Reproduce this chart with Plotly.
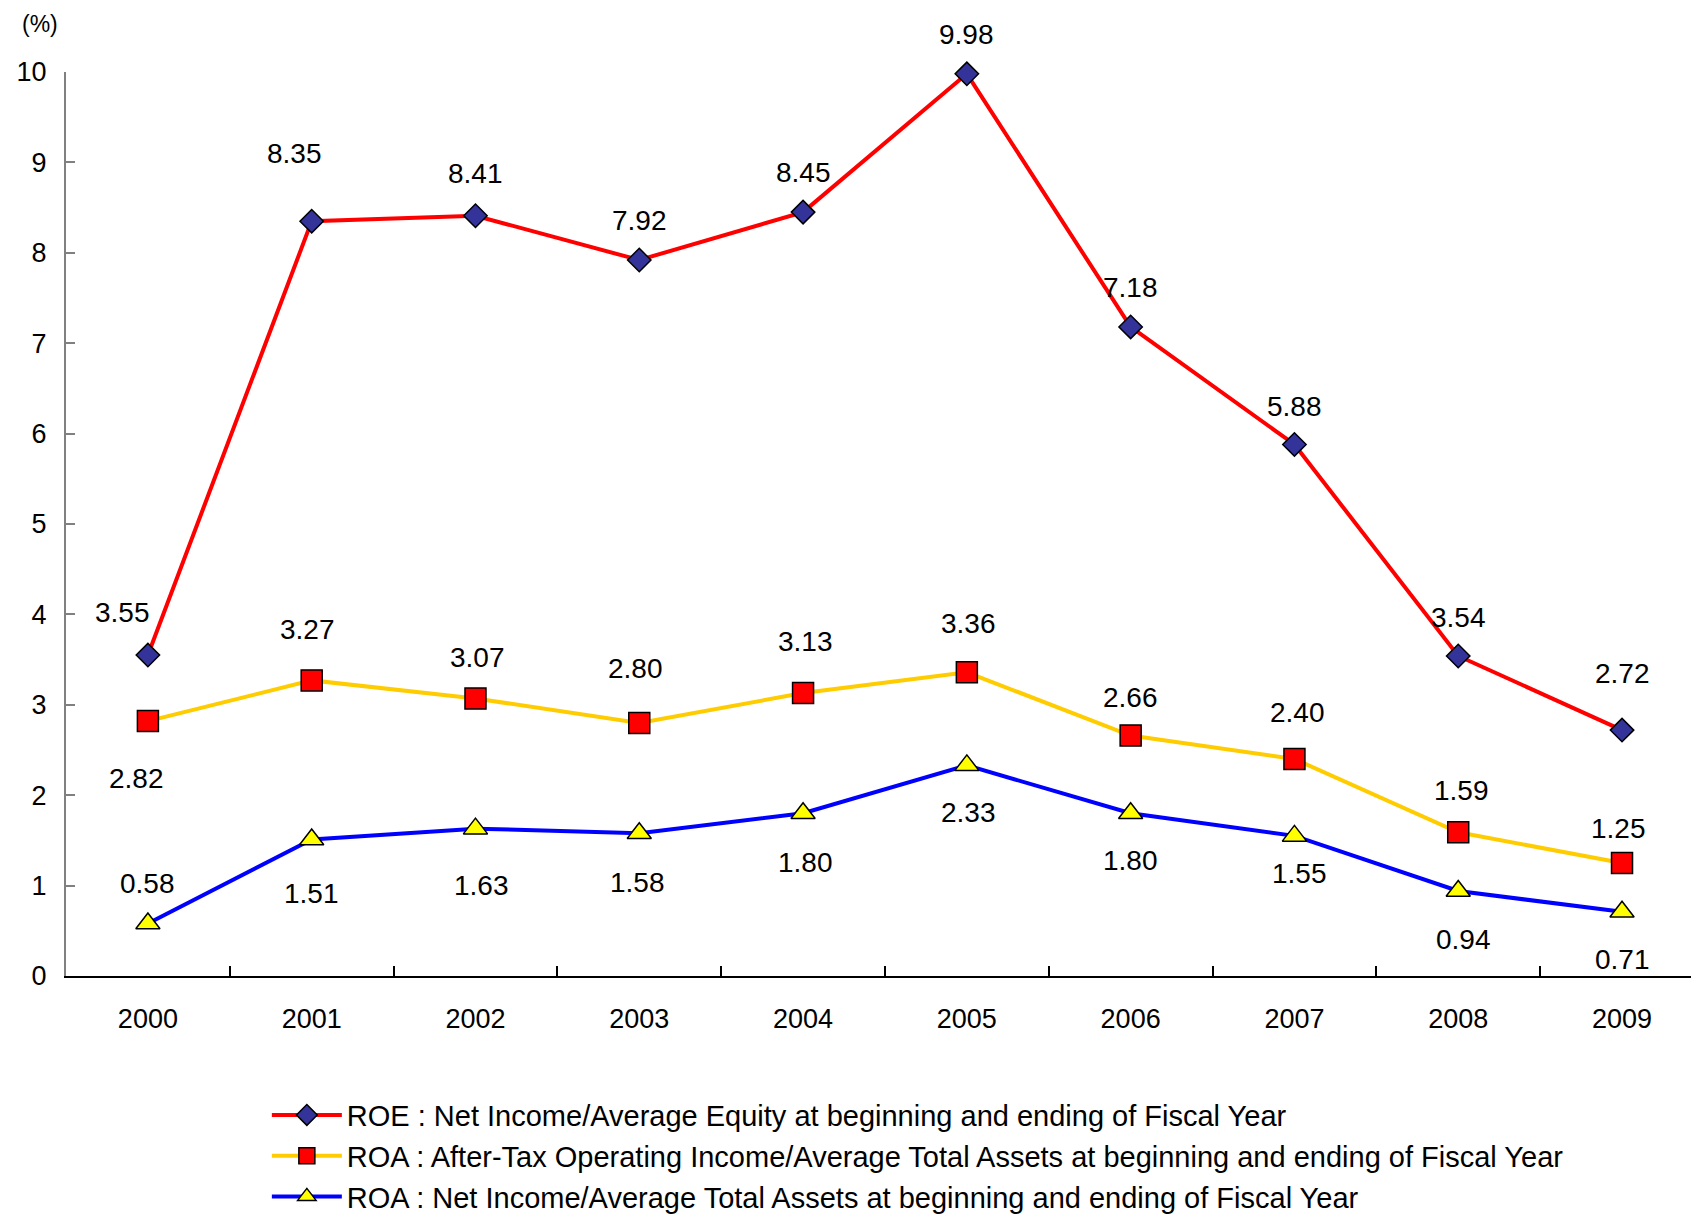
import plotly.graph_objects as go

years = ["2000", "2001", "2002", "2003", "2004", "2005", "2006", "2007", "2008", "2009"]
roe = [3.55, 8.35, 8.41, 7.92, 8.45, 9.98, 7.18, 5.88, 3.54, 2.72]
roa_optax = [2.82, 3.27, 3.07, 2.80, 3.13, 3.36, 2.66, 2.40, 1.59, 1.25]
roa_net = [0.58, 1.51, 1.63, 1.58, 1.80, 2.33, 1.80, 1.55, 0.94, 0.71]

names = [
    "ROE : Net Income/Average Equity at beginning and ending of Fiscal Year",
    "ROA : After-Tax Operating Income/Average Total Assets at beginning and ending of Fiscal Year",
    "ROA : Net Income/Average Total Assets at beginning and ending of Fiscal Year",
]

# label offsets (pixels) – styling only
roe_dy = [43, 68, 42, 40, 40, 39, 39, 38, 38, 57]
roe_dx = [-25, -17, 0, 0, 0, 0, 0, 0, 0, 0]
opt_dy = [-57, 51, 41, 54, 52, 49, 38, 47, 42, 35]
opt_dx = [-11, -4, 2, -4, 2, 2, 0, 3, 3, -4]
net_dy = [40, -54, -57, -49, -49, -47, -47, -38, -48, -48]
net_dx = [0, 0, 6, -2, 2, 2, 0, 5, 5, 0]

FONT = "Liberation Sans, Arial, sans-serif"

fig = go.Figure()
series = [
    (roe, names[0], "#FF0000", "diamond", "#333399", 18, roe_dy, roe_dx),
    (roa_optax, names[1], "#FFCC00", "square", "#FF0000", 21, opt_dy, opt_dx),
    (roa_net, names[2], "#0000FF", "triangle-up", "#FFFF00", 21, net_dy, net_dx),
]
annotations = []
for i, (vals, nm, lc, sym, fc, sz, dy, dx) in enumerate(series):
    fig.add_trace(go.Scatter(
        x=years, y=vals, name=nm, mode="lines+markers",
        line=dict(color=lc, width=4),
        marker=dict(symbol=sym, size=sz, color=fc, line=dict(color="black", width=1.5)),
        legendgroup=f"g{i}", cliponaxis=False,
    ))
    for k, (v, a, b) in enumerate(zip(vals, dy, dx)):
        annotations.append(dict(x=k, y=v, xref="x", yref="y", text=f"{v:.2f}", showarrow=False,
                                yshift=a, xshift=b,
                                font=dict(family=FONT, size=28, color="black")))

annotations.append(dict(xref="paper", yref="paper", x=-0.016, y=1.053,
                        text="(%)", showarrow=False, xanchor="center", yanchor="middle",
                        font=dict(family=FONT, size=23, color="black")))

fig.update_layout(
    width=1691, height=1206,
    margin=dict(l=58, r=0, t=64, b=238, autoexpand=False),
    plot_bgcolor="white", paper_bgcolor="white",
    showlegend=True,
    legend=dict(x=0.123, y=-0.1257, xanchor="left", yanchor="top",
                font=dict(family=FONT, size=29, color="black"),
                tracegroupgap=0, traceorder="grouped", itemwidth=70,
                bgcolor="rgba(0,0,0,0)"),
    annotations=annotations,
    font=dict(family=FONT, color="black"),
)
fig.update_xaxes(
    type="category", range=[-0.5, 9.47],
    showline=True, linecolor="black", linewidth=2,
    ticks="inside", ticklen=10, tickcolor="black", tickwidth=1.5,
    tickson="boundaries", showgrid=False, zeroline=False,
    tickfont=dict(family=FONT, size=27, color="black"),
    ticklabelstandoff=18,
)
fig.update_yaxes(
    range=[0, 10], dtick=1,
    showline=True, linecolor="#808080", linewidth=2,
    ticks="inside", ticklen=9, tickcolor="#808080", tickwidth=1.5,
    showgrid=False, zeroline=False,
    tickfont=dict(family=FONT, size=27, color="black"),
    ticklabelstandoff=12,
)

fig.write_html("out.html")
